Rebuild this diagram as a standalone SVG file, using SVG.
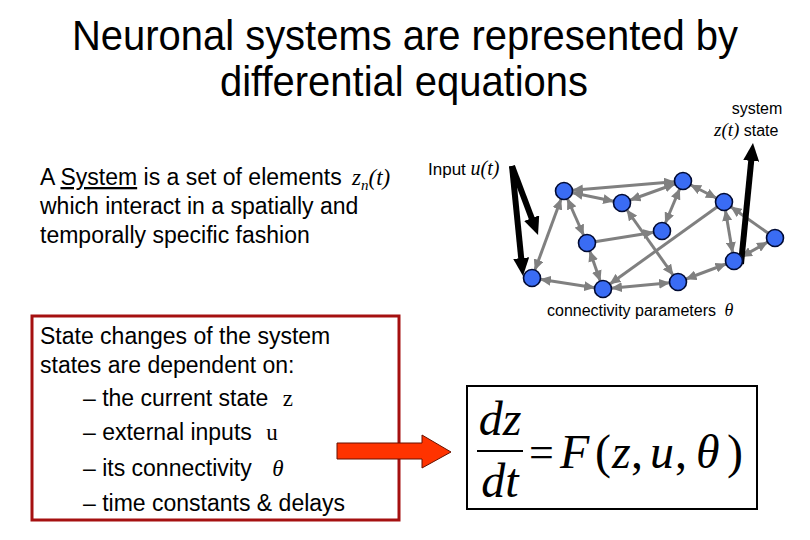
<svg xmlns="http://www.w3.org/2000/svg" width="810" height="540" viewBox="0 0 810 540">
<style>
.sans{font-family:"Liberation Sans",Arial,sans-serif;fill:#000}
.ser{font-family:"Liberation Serif","Times New Roman",serif}
.it{font-style:italic}
.edge{stroke:#808080;stroke-width:3;fill:none}
.bi{marker-start:url(#ah);marker-end:url(#ah)}
.one{marker-end:url(#ah)}
.node{fill:#3a6cf4;stroke:#000a33;stroke-width:1.6}
.big{stroke:#000;stroke-width:6;fill:none;marker-end:url(#bk)}
</style>
<defs>
<marker id="ah" markerUnits="userSpaceOnUse" viewBox="0 0 22 10" markerWidth="22" markerHeight="10" refX="19" refY="5" orient="auto-start-reverse">
<path d="M0,0 L11,5 L0,10 z" fill="#808080"/>
</marker>
<marker id="bk" markerUnits="userSpaceOnUse" viewBox="0 0 18 16" markerWidth="18" markerHeight="16" refX="4" refY="8" orient="auto">
<path d="M0,0 L18,8 L0,16 z" fill="#000"/>
</marker>
</defs>
<rect width="810" height="540" fill="#fff"/>

<g id="title" class="sans" font-size="42" text-anchor="middle">
<text x="405" y="50" textLength="666" lengthAdjust="spacingAndGlyphs">Neuronal systems are represented by</text>
<text x="404" y="96" textLength="368" lengthAdjust="spacingAndGlyphs">differential equations</text>
</g>

<g id="definition" class="sans" font-size="23">
<text x="40" y="185">A <tspan text-decoration="underline">System</tspan> is a set of elements <tspan class="ser it" dx="4">z</tspan><tspan class="ser it" font-size="15" dy="5">n</tspan><tspan class="ser it" dy="-5">(t)</tspan></text>
<text x="40" y="214">which interact in a spatially and</text>
<text x="40" y="243">temporally specific fashion</text>
</g>

<g id="labels" class="sans" font-size="16">
<text x="757" y="114" text-anchor="middle">system</text>
<text x="714" y="136"><tspan class="ser it" font-size="19">z(t)</tspan> state</text>
<text x="428" y="175" font-size="17">Input <tspan class="ser it" font-size="20">u(t)</tspan></text>
<text x="547" y="316">connectivity parameters <tspan class="ser it" font-size="18" dx="4">θ</tspan></text>
</g>

<g id="connectors">
<line class="edge bi" x1="564" y1="191" x2="683" y2="181"/>
<line class="edge bi" x1="564" y1="191" x2="622" y2="203"/>
<line class="edge bi" x1="622" y1="203" x2="683" y2="181"/>
<line class="edge bi" x1="683" y1="181" x2="662" y2="231"/>
<line class="edge bi" x1="683" y1="181" x2="724" y2="202"/>
<line class="edge bi" x1="724" y1="202" x2="734" y2="261"/>
<line class="edge one" x1="775" y1="238" x2="724" y2="202"/>
<line class="edge bi" x1="564" y1="191" x2="587" y2="243"/>
<line class="edge bi" x1="564" y1="191" x2="532" y2="278"/>
<line class="edge one" x1="587" y1="243" x2="662" y2="231"/>
<line class="edge bi" x1="587" y1="243" x2="603" y2="289"/>
<line class="edge bi" x1="532" y1="278" x2="603" y2="289"/>
<line class="edge one" x1="724" y1="202" x2="603" y2="289"/>
<line class="edge bi" x1="622" y1="203" x2="678" y2="282"/>
<line class="edge bi" x1="603" y1="289" x2="678" y2="282"/>
<line class="edge bi" x1="678" y1="282" x2="734" y2="261"/>
<line class="edge bi" x1="734" y1="261" x2="775" y2="238"/>
<line class="big" x1="512" y1="166" x2="533.1" y2="221.9"/>
<line class="big" x1="512" y1="166" x2="521.6" y2="262.1"/>
<line class="big" x1="741" y1="264" x2="751.6" y2="156.9"/>
</g>

<g id="nA"><circle class="node" cx="564" cy="191" r="8.5"/></g>
<g id="nB"><circle class="node" cx="622" cy="203" r="8.5"/></g>
<g id="nC"><circle class="node" cx="683" cy="181" r="8.5"/></g>
<g id="nD"><circle class="node" cx="724" cy="202" r="8.5"/></g>
<g id="nE"><circle class="node" cx="587" cy="243" r="8.5"/></g>
<g id="nF"><circle class="node" cx="662" cy="231" r="8.5"/></g>
<g id="nG"><circle class="node" cx="775" cy="238" r="8.5"/></g>
<g id="nH"><circle class="node" cx="734" cy="261" r="8.5"/></g>
<g id="nI"><circle class="node" cx="532" cy="278" r="8.5"/></g>
<g id="nJ"><circle class="node" cx="603" cy="289" r="8.5"/></g>
<g id="nK"><circle class="node" cx="678" cy="282" r="8.5"/></g>

<g id="dependencies">
<rect x="32" y="316" width="367" height="204" fill="none" stroke="#a51010" stroke-width="3"/>
<g class="sans" font-size="23">
<text x="40" y="344">State changes of the system</text>
<text x="40" y="373">states are dependent on:</text>
<text x="83" y="406">– the current state <tspan class="ser" dx="8">z</tspan></text>
<text x="83" y="440">– external inputs <tspan class="ser" dx="8">u</tspan></text>
<text x="83" y="476">– its connectivity <tspan class="ser it" dx="14">θ</tspan></text>
<text x="83" y="511">– time constants &amp; delays</text>
</g>
</g>

<g id="red-arrow">
<polygon points="337,443 422,443 422,435 451,452 422,468 422,459 337,459" fill="#ff3300" stroke="#661100" stroke-width="1"/>
</g>

<g id="equation">
<rect x="467" y="386" width="290" height="123" fill="#fff" stroke="#000" stroke-width="2"/>
<g class="ser" font-size="48">
<text x="500" y="435" text-anchor="middle" class="ser it">dz</text>
<line x1="477" y1="451" x2="523" y2="451" stroke="#000" stroke-width="2"/>
<text x="500" y="497" text-anchor="middle" class="ser it">dt</text>
<text x="529" y="467" font-size="44">=</text>
<text x="560" y="468" class="ser it">F</text>
<text x="595" y="468">(</text>
<text x="612" y="468" class="ser it">z</text>
<text x="631" y="468">,</text>
<text x="650" y="468" class="ser it">u</text>
<text x="675" y="468">,</text>
<text x="696" y="468" class="ser it">θ</text>
<text x="727" y="468">)</text>
</g>
</g>
</svg>
